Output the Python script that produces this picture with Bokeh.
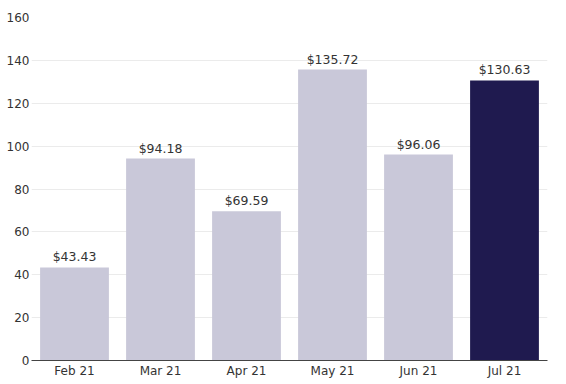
from bokeh.plotting import figure
from bokeh.models import ColumnDataSource, FixedTicker, LabelSet
from bokeh.core.properties import value
from bokeh.embed import file_html
from bokeh.resources import INLINE

months = ["Feb 21", "Mar 21", "Apr 21", "May 21", "Jun 21", "Jul 21"]
values = [43.43, 94.18, 69.59, 135.72, 96.06, 130.63]
colors = ["#c9c8d9", "#c9c8d9", "#c9c8d9", "#c9c8d9", "#c9c8d9", "#1f1a4f"]
y_ticks = [0, 20, 40, 60, 80, 100, 120, 140, 160]

labels = ["$%.2f" % v for v in values]
src = ColumnDataSource(dict(x=months, top=values, color=colors, label=labels))

p = figure(x_range=months, y_range=(0, 160), frame_width=516, frame_height=343,
           output_backend="svg", toolbar_location=None,
           min_border_left=31, min_border_right=10, min_border_top=17, min_border_bottom=20)
p.outline_line_color = None
p.background_fill_color = "white"
p.border_fill_color = "white"

p.vbar(x="x", top="top", width=0.8, fill_color="color", line_color=None, source=src)

lab = LabelSet(x="x", y="top", text="label", source=src, text_align="center",
               text_baseline="bottom", y_offset=3, text_font=value("DejaVu Sans"),
               text_font_size="12.5px", text_color="#333333")
p.add_layout(lab)

p.xgrid.grid_line_color = None
p.ygrid.grid_line_color = "#ebebeb"
p.ygrid.ticker = FixedTicker(ticks=y_ticks)

p.yaxis.ticker = FixedTicker(ticks=y_ticks)
p.yaxis.axis_line_color = None
p.yaxis.major_tick_line_color = None
p.yaxis.minor_tick_line_color = None
p.yaxis.major_tick_out = 0
p.yaxis.major_tick_in = 0
p.yaxis.minor_tick_out = 0
p.yaxis.major_label_standoff = 2
p.yaxis.major_label_text_font = "DejaVu Sans"
p.yaxis.major_label_text_font_size = "12px"
p.yaxis.major_label_text_color = "#333333"

p.xaxis.axis_line_color = "#444444"
p.xaxis.axis_line_width = 1
p.xaxis.major_tick_line_color = None
p.xaxis.minor_tick_line_color = None
p.xaxis.major_tick_out = 0
p.xaxis.major_tick_in = 0
p.xaxis.major_label_standoff = 3
p.xaxis.major_label_text_font = "DejaVu Sans"
p.xaxis.major_label_text_font_size = "12px"
p.xaxis.major_label_text_color = "#333333"
p.x_range.range_padding = 0

open("out.html", "w").write(file_html(p, INLINE))
